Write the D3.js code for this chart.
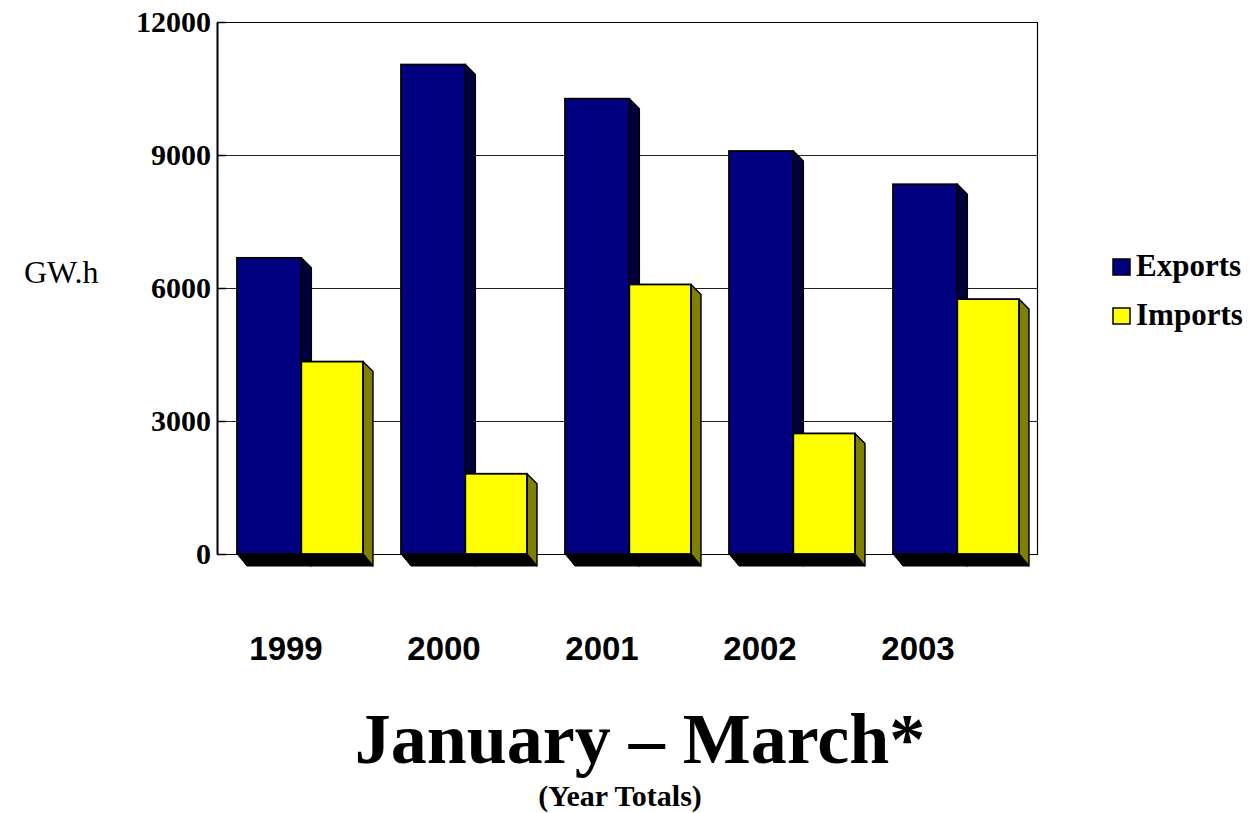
<!DOCTYPE html>
<html>
<head>
<meta charset="utf-8">
<script src="https://cdn.jsdelivr.net/npm/d3@7"></script>
<style>
  html, body { margin: 0; padding: 0; background: #ffffff; }
  svg { display: block; }
</style>
</head>
<body>
<svg id="chart" width="1249" height="813"></svg>
<script>
// ---- data ----
const categories = ["1999", "2000", "2001", "2002", "2003"];
const exportsValues = [6680, 11040, 10270, 9090, 8340];
const importsValues = [4340, 1810, 6080, 2720, 5750];
const yTickValues = [0, 3000, 6000, 9000, 12000];
const seriesNames = ["Exports", "Imports"];
const seriesColors = ["#000080", "#ffff00"];
const sideColors = ["#00003c", "#808000"];
const yUnit = "GW.h";
const titleText = "January \u2013 March*";
const subtitleText = "(Year Totals)";

// ---- layout ----
const svg = d3.select("#chart");
const plot = { left: 217, right: 1037, top: 22, bottom: 554 };
const depth = 10;

const x = d3.scaleBand().domain(categories).range([plot.left, plot.right]);
const y = d3.scaleLinear().domain([0, 12000]).range([plot.bottom, plot.top]);
const bw = x.bandwidth();
const sub = d3.scaleOrdinal().domain(seriesNames).range([0.122 * bw, 0.514 * bw]);
const subW = { Exports: 0.392 * bw, Imports: 0.376 * bw };

const serif = "'Liberation Serif', 'Times New Roman', serif";
const sans = "'Liberation Sans', Arial, sans-serif";

// gridlines
svg.append("g")
  .selectAll("line")
  .data(yTickValues.filter(v => v > 0 && v < 12000))
  .join("line")
  .attr("x1", plot.left).attr("x2", plot.right)
  .attr("y1", d => y(d) + 0.5).attr("y2", d => y(d) + 0.5)
  .attr("stroke", "#222").attr("stroke-width", 1)
  .attr("shape-rendering", "crispEdges");

// frame (top, right, bottom)
svg.append("path")
  .attr("d", `M${plot.left},${plot.top + 0.5}H${plot.right + 0.5}V${plot.bottom + 0.5}H${plot.left}`)
  .attr("fill", "none").attr("stroke", "#000").attr("stroke-width", 1.2);

// bars
const rows = [];
categories.forEach((c, i) => {
  rows.push({ cat: c, series: "Exports", value: exportsValues[i], k: 0 });
  rows.push({ cat: c, series: "Imports", value: importsValues[i], k: 1 });
});

const bars = svg.append("g").selectAll("g").data(rows).join("g");

bars.each(function(d) {
  const g = d3.select(this);
  const x0 = x(d.cat) + sub(d.series);
  const w = subW[d.series];
  const yt = y(d.value);
  const yb = y(0);
  g.append("path")
    .attr("d", `M${x0},${yb}L${x0 + depth},${yb + depth + 2}L${x0 + w + depth},${yb + depth + 2}L${x0 + w},${yb}Z`)
    .attr("fill", "#000").attr("stroke", "#000").attr("stroke-width", 1);
  g.append("path")
    .attr("d", `M${x0 + w},${yt}L${x0 + w + depth},${yt + depth}L${x0 + w + depth},${yb + depth + 2}L${x0 + w},${yb}Z`)
    .attr("fill", sideColors[d.k]).attr("stroke", "#000").attr("stroke-width", 1.5).attr("stroke-linejoin", "round");
  g.append("rect")
    .attr("x", x0).attr("y", yt).attr("width", w).attr("height", yb - yt)
    .attr("fill", seriesColors[d.k]).attr("stroke", "#000").attr("stroke-width", 1.8);
});

// y axis
const yAxis = d3.axisLeft(y).tickValues(yTickValues).tickFormat(d3.format("d"))
  .tickSizeInner(-9).tickSizeOuter(0).tickPadding(6);
const ya = svg.append("g").attr("transform", `translate(${plot.left},0)`).call(yAxis);
ya.select(".domain").attr("stroke", "#000").attr("stroke-width", 2);
ya.selectAll(".tick line").attr("stroke", "#000").attr("stroke-width", 1.5);
ya.selectAll(".tick text")
  .attr("font-family", serif).attr("font-weight", "bold").attr("font-size", 30)
  .attr("fill", "#000");

// unit label
svg.append("text").attr("x", 24).attr("y", 283)
  .attr("font-family", serif).attr("font-size", 32).attr("fill", "#000")
  .text(yUnit);

// category labels row
const xl = d3.scalePoint().domain(categories).range([286, 918]);
svg.append("g").selectAll("text").data(categories).join("text")
  .attr("x", d => xl(d)).attr("y", 660)
  .attr("text-anchor", "middle")
  .attr("font-family", sans).attr("font-weight", "bold").attr("font-size", 33)
  .attr("fill", "#000")
  .text(d => d);

// title and subtitle
svg.append("text").attr("x", 640).attr("y", 763).attr("text-anchor", "middle")
  .attr("font-family", serif).attr("font-weight", "bold").attr("font-size", 72)
  .text(titleText);
svg.append("text").attr("x", 620).attr("y", 806).attr("text-anchor", "middle")
  .attr("font-family", serif).attr("font-weight", "bold").attr("font-size", 30)
  .text(subtitleText);

// legend
const lg = svg.append("g").selectAll("g").data(seriesNames).join("g")
  .attr("transform", (d, i) => `translate(1113,${259 + i * 49})`);
lg.append("rect").attr("width", 17).attr("height", 16)
  .attr("fill", (d, i) => seriesColors[i]).attr("stroke", "#000").attr("stroke-width", 1.5);
lg.append("text").attr("x", 23).attr("y", 17)
  .attr("font-family", serif).attr("font-weight", "bold").attr("font-size", 31)
  .text(d => d);
</script>
</body>
</html>
